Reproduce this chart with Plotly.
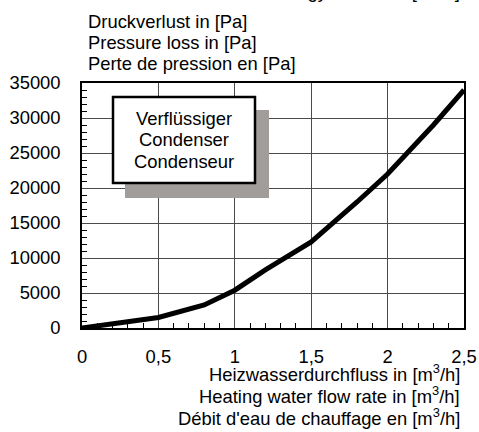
import plotly.graph_objects as go

# Heating water flow rate [m³/h] and condenser pressure loss [Pa]
flow_rate = [0, 0.5, 0.8, 1.0, 1.2, 1.5, 1.8, 2.0, 2.3, 2.5]
pressure_loss = [0, 1500, 3300, 5400, 8300, 12300, 18000, 22000, 29000, 34000]

y_title_lines = ["Druckverlust in [Pa]", "Pressure loss in [Pa]", "Perte de pression en [Pa]"]
x_title_lines = [
    "Heizwasserdurchfluss in [m<sup>3</sup>/h]",
    "Heating water flow rate in [m<sup>3</sup>/h]",
    "Débit d'eau de chauffage en [m<sup>3</sup>/h]",
]
box_lines = ["Verflüssiger", "Condenser", "Condenseur"]
top_line = "Flow rate energy source in [m<sup>3</sup>/h]"

FONT = "Liberation Sans, Arial, sans-serif"
FS = 18.4

W, H = 479, 432
L, R, T, B = 82, 15, 83, 104
PW, PH = W - L - R, H - T - B


def px(x):
    return (x - L) / PW


def py(y):
    return (H - B - y) / PH


fig = go.Figure(
    go.Scatter(
        x=flow_rate,
        y=pressure_loss,
        mode="lines",
        line=dict(color="black", width=5),
        hoverinfo="skip",
    )
)

annotations = []
for i, t in enumerate(y_title_lines):
    annotations.append(dict(text=t, x=px(86), y=py(21 + 21.3 * i), xanchor="left", yanchor="middle"))
for i, t in enumerate(x_title_lines):
    annotations.append(dict(text=t, x=px(462), y=py(373 + 22 * i), xanchor="right", yanchor="middle"))
for i, t in enumerate(box_lines):
    annotations.append(dict(text=t, x=px(184), y=py(118 + 21.7 * i), xanchor="center", yanchor="middle"))
annotations.append(dict(text=top_line, x=px(462), y=py(-10), xanchor="right", yanchor="middle"))
for a in annotations:
    a.update(xref="paper", yref="paper", showarrow=False, font=dict(family=FONT, size=FS, color="black"))

shapes = [
    # drop shadow
    dict(type="rect", xref="paper", yref="paper", x0=px(125), x1=px(269), y0=py(110), y1=py(198),
         fillcolor="#a19d9b", line=dict(width=0), layer="above"),
    # label box
    dict(type="rect", xref="paper", yref="paper", x0=px(113), x1=px(255), y0=py(97), y1=py(183),
         fillcolor="white", line=dict(color="black", width=2.5), layer="above"),
]

fig.update_layout(
    width=W,
    height=H,
    margin=dict(l=L, r=R, t=T, b=B, pad=0, autoexpand=False),
    paper_bgcolor="white",
    plot_bgcolor="white",
    showlegend=False,
    separators=",.",
    font=dict(family=FONT, size=FS, color="black"),
    annotations=annotations,
    shapes=shapes,
)

axis_common = dict(
    automargin=False,
    showgrid=True,
    gridcolor="#4a4a4a",
    gridwidth=1.2,
    zeroline=False,
    showline=True,
    mirror=True,
    linecolor="black",
    linewidth=1.5,
    ticks="",
    tickfont=dict(family=FONT, size=FS, color="black"),
)

fig.update_xaxes(
    range=[0, 2.5],
    dtick=0.5,
    tick0=0,
    ticklabelstandoff=11,
    minor=dict(dtick=0.1, tick0=0, ticks="inside", ticklen=5, tickcolor="black", tickwidth=1, showgrid=False),
    **axis_common,
)
fig.update_yaxes(
    range=[0, 35000],
    dtick=5000,
    tick0=0,
    tickformat="d",
    ticklabelstandoff=16,
    minor=dict(dtick=1000, tick0=0, ticks="inside", ticklen=5, tickcolor="black", tickwidth=1, showgrid=False),
    **axis_common,
)

fig.write_html("out.html")
